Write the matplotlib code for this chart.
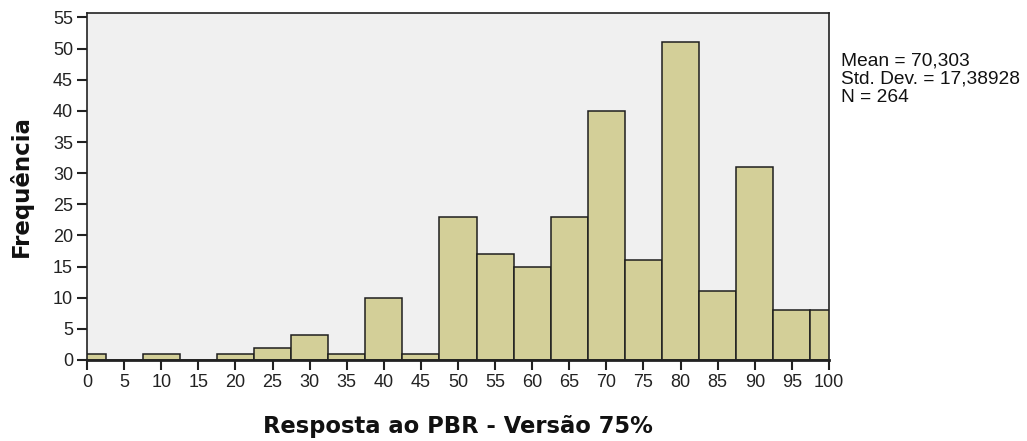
import numpy as np
import matplotlib
matplotlib.use("Agg")
import matplotlib.pyplot as plt

plt.rcParams['font.family'] = ['Liberation Sans', 'DejaVu Sans']

# histogram bins (centres) and frequencies
bin_centres = [0, 5, 10, 15, 20, 25, 30, 35, 40, 45, 50, 55, 60, 65, 70, 75, 80, 85, 90, 95, 100]
counts = [1, 0, 1, 0, 1, 2, 4, 1, 10, 1, 23, 17, 15, 23, 40, 16, 51, 11, 31, 8, 8]
x_ticks = list(range(0, 101, 5))
y_ticks = list(range(0, 56, 5))
stats_lines = ["Mean = 70,303", "Std. Dev. = 17,38928", "N = 264"]

fig = plt.figure(figsize=(10.27, 4.41), dpi=100)
ax = fig.add_axes([87/1027, 1 - 360/441, (829 - 87)/1027, (360 - 12.5)/441])
ax.set_facecolor('#F0F0F0')

ax.bar(bin_centres, counts, width=5, color='#D3CF98', edgecolor='#1e1e1e', linewidth=1.1, zorder=2)

ax.set_xlim(0, 100)
ax.set_ylim(0, 55.8)
ax.set_xticks(x_ticks)
ax.set_yticks(y_ticks)
ax.tick_params(axis='both', direction='out', length=7, width=1.5, color='#222222',
               labelsize=13, labelcolor='#222222', pad=3)

for side in ['top', 'right', 'left']:
    ax.spines[side].set_linewidth(1.2)
    ax.spines[side].set_color('#222222')
ax.spines['bottom'].set_linewidth(2)
ax.spines['bottom'].set_color('#222222')

# axis titles: wide bold face like the original
fig.text(458/1027, 1 - 426/441, 'Resposta ao PBR - Versão 75%', ha='center', va='center',
         fontsize=16.3, fontweight='bold', color='#111111', family='DejaVu Sans')
fig.text(21/1027, 1 - 186/441, 'Frequência', ha='center', va='center', rotation=90,
         fontsize=16.5, fontweight='bold', color='#111111', family='DejaVu Sans')

for i, line in enumerate(stats_lines):
    fig.text(841/1027, 1 - (61 + 18.5*i)/441, line, ha='left', va='center',
             fontsize=13.8, color='#111111')

fig.savefig('out.png', dpi=100, facecolor='white')
